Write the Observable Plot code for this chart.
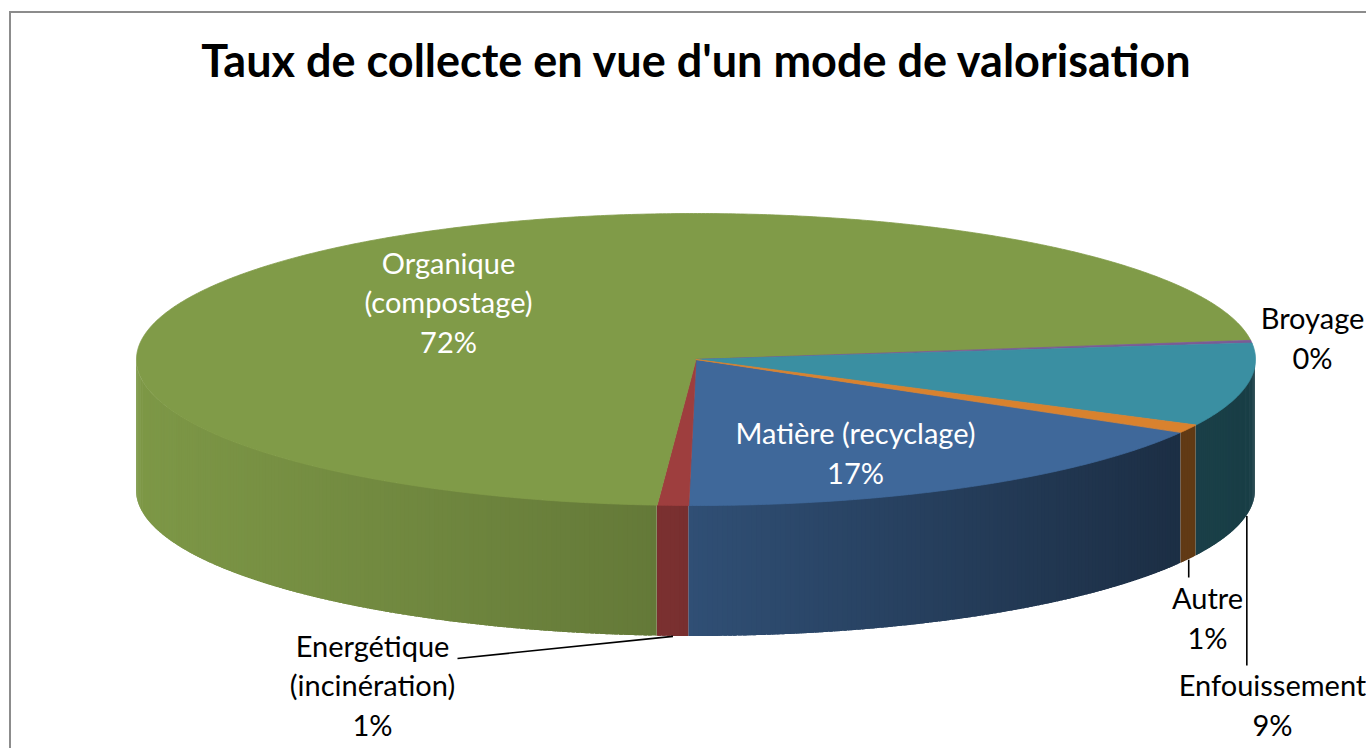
<!DOCTYPE html>
<html><head><meta charset="utf-8">
<script src="https://cdn.jsdelivr.net/npm/d3@7"></script>
<script src="https://cdn.jsdelivr.net/npm/@observablehq/plot@0.6"></script>
<style>
html,body{margin:0;padding:0;background:#fff;overflow:hidden;width:1366px;height:748px;}
#frame{position:absolute;left:9px;top:11px;width:1500px;height:900px;border:2px solid #8c8c8c;box-sizing:border-box;}
#title{position:absolute;left:0;top:38px;width:1392px;text-align:center;font-family:Lato;font-weight:bold;font-size:45px;line-height:45px;color:#000;white-space:nowrap;}
#chart{position:absolute;left:0;top:100px;}
</style></head><body>
<div id="frame"></div>
<div id="title">Taux de collecte en vue d'un mode de valorisation</div>
<div id="chart"></div>
<script>
// ---- data ----
const categories = ["Matière (recyclage)", "Energétique\n(incinération)", "Organique\n(compostage)", "Broyage", "Enfouissement", "Autre"];
const values = [16.9, 0.9, 71.8, 0.3, 9.2, 0.9];
const colors = ["#3F689A", "#9E3E3E", "#809B48", "#7A5C96", "#3A8FA2", "#D9822E"];

// ---- layout ----
const CX = 695.5, CY = 359, RX = 559.5, RY = 146, DEPTH = 131, START = 29.9;
const labelLayout = [
  {cat: 0, x: 855, y: 483, fill: "#ffffff"},
  {cat: 1, x: 372, y: 735, fill: "#000000", leaderEnd: [457, 658]},
  {cat: 2, x: 448, y: 352, fill: "#ffffff"},
  {cat: 3, x: 1312, y: 368, fill: "#000000"},
  {cat: 4, x: 1272, y: 735, fill: "#000000", leaderEnd: [null, 665]},
  {cat: 5, x: 1207, y: 648, fill: "#000000", leaderEnd: [null, 577]}
];

const total = d3.sum(values);
const rad = d => d * Math.PI / 180;
const px = a => CX + RX * Math.cos(rad(a));
const py = a => CY + RY * Math.sin(rad(a));

let acc = 0;
const slices = categories.map((c, i) => {
  const a0 = START + acc / total * 360;
  acc += values[i];
  const a1 = START + acc / total * 360;
  return {i, c, a0, a1, mid: (a0 + a1) / 2, color: colors[i], pct: Math.round(values[i] / total * 100) + "%"};
});

// top faces
const topMarks = slices.map(s => {
  const pts = [{x: CX, y: CY}];
  const n = Math.max(2, Math.ceil((s.a1 - s.a0) / 0.4));
  for (let k = 0; k <= n; ++k) {
    const a = s.a0 + (s.a1 - s.a0) * k / n;
    pts.push({x: px(a), y: py(a)});
  }
  return Plot.line(pts, {x: "x", y: "y", fill: s.color, stroke: s.color, strokeWidth: 0.8, curve: "linear-closed"});
});

// side faces, shaded strips (each strip overlaps the next to hide seams)
const shadeF = d3.scaleLinear().domain([136, 640, 1170, 1255]).range([0.98, 0.79, 0.45, 0.43]).clamp(true);
const sideRows = [];
let strip = 0;
for (const s of slices) {
  for (const off of [0, 360]) {
    const lo = Math.max(s.a0, off), hi = Math.min(s.a1, off + 180);
    if (hi <= lo) continue;
    const n = Math.max(1, Math.ceil((hi - lo) / 0.5));
    const step = (hi - lo) / n;
    for (let k = 0; k < n; ++k) {
      const t0 = lo + step * k, t1 = Math.min(hi, lo + step * (k + 1) + step * 0.8);
      const xm = px(lo + step * (k + 0.5));
      const c = d3.rgb(s.color), f = shadeF(xm);
      const fill = d3.rgb(c.r * f, c.g * f, c.b * f).formatHex();
      const ts = d3.range(5).map(j => t0 + (t1 - t0) * j / 4);
      for (const t of ts) sideRows.push({k: strip, x: px(t), y1: py(t), y2: py(t) + DEPTH, fill});
      strip++;
    }
  }
}

// labels and leaders
const labels = labelLayout.map(l => ({x: l.x, y: l.y, fill: l.fill, text: slices[l.cat].c + "\n" + slices[l.cat].pct}));
const leaders = labelLayout.filter(l => l.leaderEnd).map(l => {
  const s = slices[l.cat];
  const x1 = px(s.mid), y1 = py(s.mid) + DEPTH;
  return {x1, y1, x2: l.leaderEnd[0] ?? x1, y2: l.leaderEnd[1]};
});

const plot = Plot.plot({
  width: 1366, height: 648, margin: 0,
  style: {background: "transparent", overflow: "visible", fontFamily: "Lato"},
  x: {domain: [0, 1366], range: [0, 1366], axis: null},
  y: {domain: [100, 748], range: [0, 648], axis: null},
  color: {type: "identity"},
  marks: [
    Plot.areaY(sideRows, {x: "x", y1: "y1", y2: "y2", z: "k", fill: "fill"}),
    ...topMarks,
    Plot.link(leaders, {x1: "x1", y1: "y1", x2: "x2", y2: "y2", stroke: "#000", strokeWidth: 1.6}),
    Plot.text(labels, {x: "x", y: "y", text: "text", fill: "fill", fontSize: 29, fontFamily: "Lato", lineAnchor: "bottom", lineHeight: 1.36, textAnchor: "middle"})
  ]
});
document.getElementById("chart").appendChild(plot);
</script>
</body></html>
